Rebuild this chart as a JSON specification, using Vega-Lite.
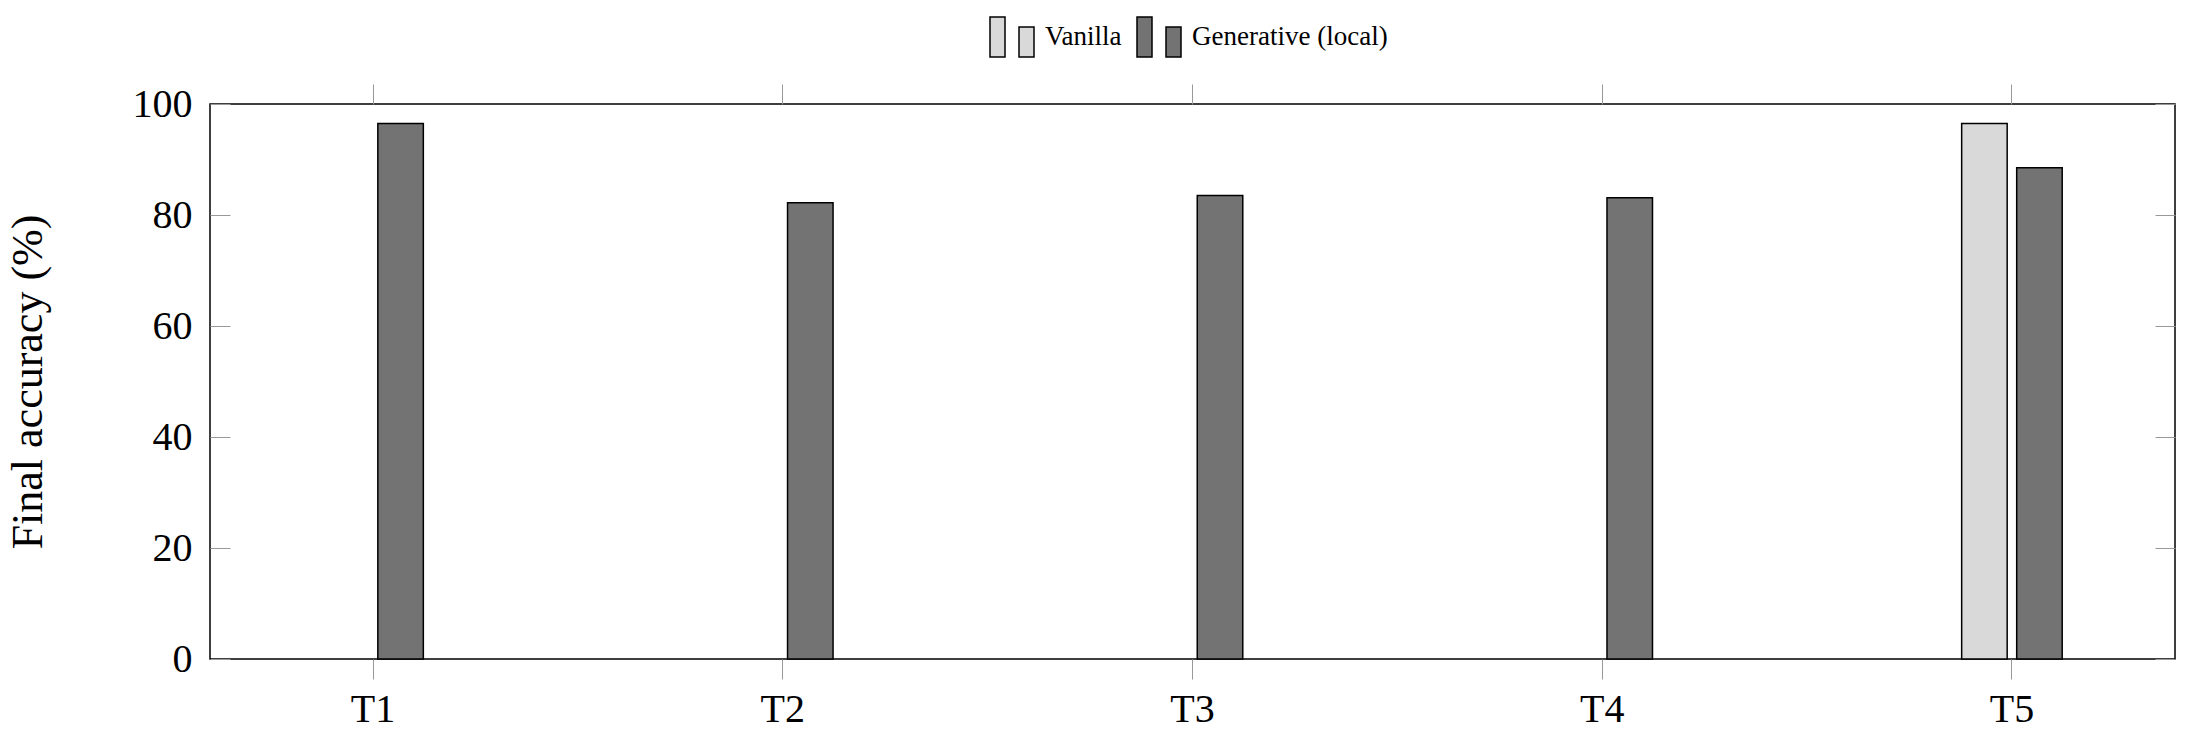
{
  "$schema": "https://vega.github.io/schema/vega-lite/v6.json",
  "autosize": "none",
  "padding": {"left": 210, "top": 104, "right": 15, "bottom": 82},
  "width": 1965,
  "height": 555,
  "background": "white",
  "config": {
    "font": "Liberation Serif",
    "view": {"stroke": "black", "strokeWidth": 1.5},
    "axis": {"domain": false, "grid": false, "labelFont": "Liberation Serif", "titleFont": "Liberation Serif", "labelColor": "black", "titleColor": "black", "tickColor": "#999999", "tickWidth": 1}
  },
  "data": {
    "values": [
      {"task": "T1", "method": "Generative (local)", "accuracy": 96.5},
      {"task": "T2", "method": "Generative (local)", "accuracy": 82.2},
      {"task": "T3", "method": "Generative (local)", "accuracy": 83.5},
      {"task": "T4", "method": "Generative (local)", "accuracy": 83.1},
      {"task": "T5", "method": "Vanilla", "accuracy": 96.5},
      {"task": "T5", "method": "Generative (local)", "accuracy": 88.5}
    ]
  },
  "layer": [
    {
      "mark": {"type": "bar", "stroke": "black", "strokeWidth": 1.5},
      "encoding": {
        "x": {
          "field": "task",
          "type": "nominal",
          "sort": ["T1", "T2", "T3", "T4", "T5"],
          "scale": {"domain": ["T1", "T2", "T3", "T4", "T5"], "paddingInner": 0.7546, "paddingOuter": 0.2753},
          "axis": {"orient": "bottom", "title": null, "labelAngle": 0, "labelFontSize": 40, "tickSize": 20, "labelPadding": 10, "tickBand": "center"}
        },
        "xOffset": {
          "field": "method",
          "type": "nominal",
          "scale": {"domain": ["Vanilla", "Generative (local)"], "paddingInner": 0.173, "paddingOuter": 0}
        },
        "y": {
          "field": "accuracy",
          "type": "quantitative",
          "scale": {"domain": [0, 100], "nice": false},
          "axis": {"orient": "left", "title": "Final accuracy (%)", "values": [0, 20, 40, 60, 80, 100], "labelFontSize": 40, "titleFontSize": 44, "titleFontWeight": "normal", "tickSize": -20, "labelPadding": 38, "titlePadding": 82}
        },
        "fill": {
          "field": "method",
          "type": "nominal",
          "scale": {"domain": ["Vanilla", "Generative (local)"], "range": ["#d9d9d9", "#737373"]},
          "legend": {
            "title": null,
            "orient": "none",
            "direction": "horizontal",
            "legendX": 781,
            "legendY": -88,
            "padding": 0,
            "symbolType": "M-1.1,-1H-0.35V1H-1.1Z M0.35,-0.5H1.1V1H0.35Z",
            "symbolSize": 1600,
            "symbolStrokeColor": "black",
            "symbolStrokeWidth": 1.5,
            "symbolOpacity": 1,
            "labelFont": "Liberation Serif",
            "labelFontSize": 27,
            "labelColor": "black",
            "labelLimit": 0,
            "labelOffset": 12,
            "columnPadding": 12
          }
        }
      }
    },
    {
      "mark": {"type": "bar", "opacity": 0},
      "encoding": {
        "x": {
          "field": "task",
          "type": "nominal",
          "sort": ["T1", "T2", "T3", "T4", "T5"],
          "axis": {"orient": "top", "title": null, "labels": false, "tickSize": 20, "tickBand": "center"}
        },
        "xOffset": {"field": "method", "type": "nominal"},
        "y": {
          "field": "accuracy",
          "type": "quantitative",
          "axis": {"orient": "right", "title": null, "labels": false, "values": [0, 20, 40, 60, 80, 100], "tickSize": -20}
        }
      }
    }
  ],
  "resolve": {"axis": {"x": "independent", "y": "independent"}}
}
